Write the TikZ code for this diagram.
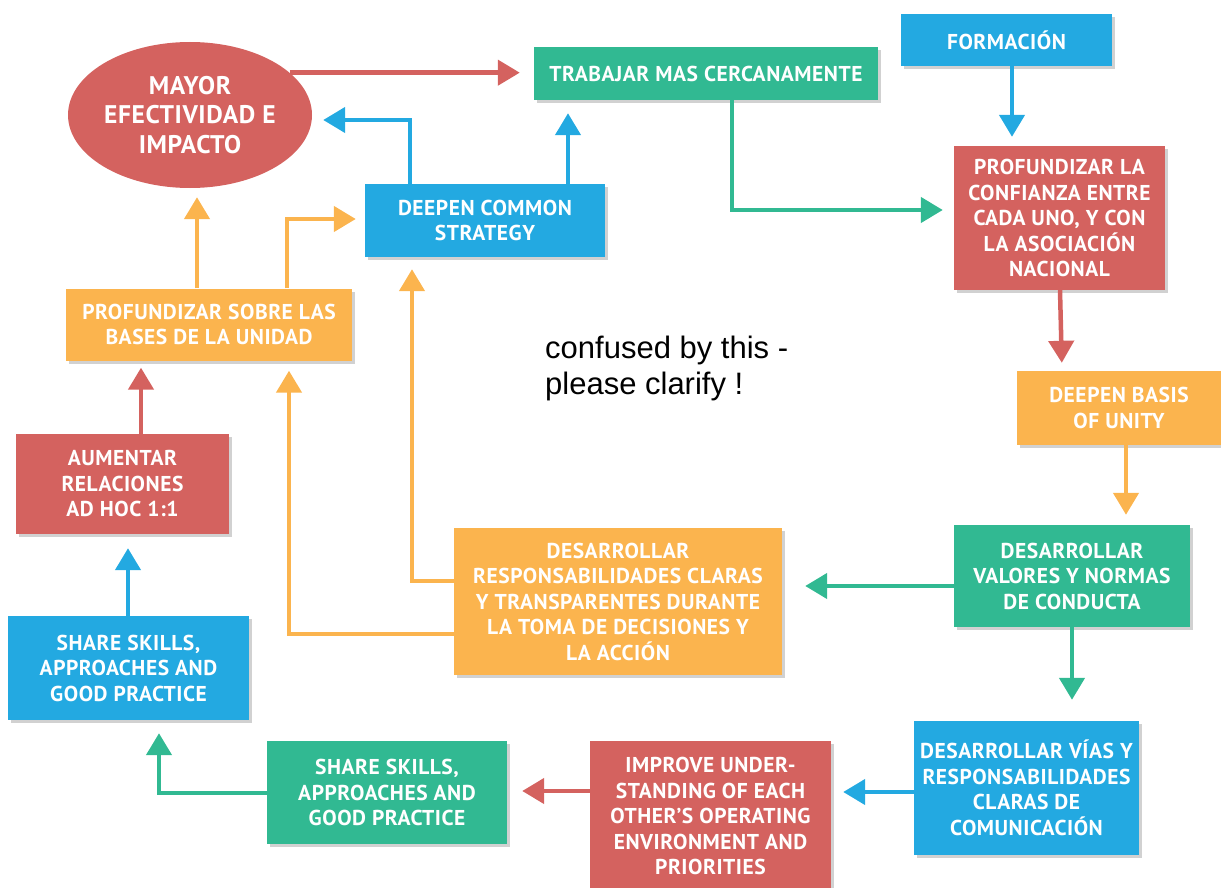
\documentclass[tikz,border=0pt]{standalone}
\usepackage{fontspec}
\setmainfont{PT Sans}[LetterSpace=2.5]
\newfontfamily\notefont{Liberation Sans}
\usetikzlibrary{arrows.meta,shapes.geometric,shadows}
\definecolor{cred}{HTML}{D4625F}
\definecolor{cgreen}{HTML}{31B992}
\definecolor{cblue}{HTML}{23A9E1}
\definecolor{corange}{HTML}{FBB44E}
\begin{document}
\begin{tikzpicture}[x=1pt,y=-1pt,
  box/.style={rectangle, inner sep=0pt, align=center, text=white,
    font=\fontsize{21.5}{25.5}\selectfont\bfseries,
    drop shadow={shadow xshift=3pt,shadow yshift=-3pt,opacity=0.18,fill=black}},
  conn/.style={line width=4.5pt, -{Triangle[width=25pt,length=22pt]}},
]
\useasboundingbox (0,0) rectangle (1221,888);

\node[ellipse, fill=cred, inner sep=0pt, align=center, text=white,
  font=\fontsize{25.5}{29.5}\selectfont\bfseries,
  minimum width=244pt, minimum height=146pt] (ell) at (190,115) {MAYOR\\EFECTIVIDAD E\\IMPACTO};
\node[box, fill=cgreen, minimum width=344pt, minimum height=53pt] (trab) at (706,73.5) {TRABAJAR MAS CERCANAMENTE};
\node[box, fill=cblue, minimum width=211pt, minimum height=52pt] (form) at (1006.5,40) {FORMACIÓN};
\node[box, fill=cred, minimum width=211pt, minimum height=144pt] (prof) at (1059.5,218) {PROFUNDIZAR LA\\CONFIANZA ENTRE\\CADA UNO, Y CON\\LA ASOCIACIÓN\\NACIONAL};
\node[box, fill=corange, minimum width=204pt, minimum height=74pt] (basis) at (1119,408) {DEEPEN BASIS\\OF UNITY};
\node[box, fill=cgreen, minimum width=236pt, minimum height=102pt] (valores) at (1072,576) {DESARROLLAR\\VALORES Y NORMAS\\DE CONDUCTA};
\node[box, fill=cblue, minimum width=225pt, minimum height=134pt] (vias) at (1026.5,788) {DESARROLLAR VÍAS Y\\RESPONSABILIDADES\\CLARAS DE\\COMUNICACIÓN};
\node[box, fill=cred, minimum width=241pt, minimum height=150pt] (improve) at (710.5,816) {IMPROVE UNDER-\\STANDING OF EACH\\OTHER’S OPERATING\\ENVIRONMENT AND\\PRIORITIES};
\node[box, fill=cgreen, minimum width=240pt, minimum height=103pt] (sharegreen) at (387,792.5) {SHARE SKILLS,\\APPROACHES AND\\GOOD PRACTICE};
\node[box, fill=cblue, minimum width=241pt, minimum height=104pt] (shareblue) at (128.5,668) {SHARE SKILLS,\\APPROACHES AND\\GOOD PRACTICE};
\node[box, fill=cred, minimum width=213pt, minimum height=100pt] (aum) at (122.5,484) {AUMENTAR\\RELACIONES\\AD HOC 1:1};
\node[box, fill=corange, minimum width=286pt, minimum height=72pt] (sobre) at (209,324.5) {PROFUNDIZAR SOBRE LAS\\BASES DE LA UNIDAD};
\node[box, fill=cblue, minimum width=240pt, minimum height=73pt] (strategy) at (485,220.5) {DEEPEN COMMON\\STRATEGY};
\node[box, fill=corange, minimum width=328pt, minimum height=147pt] (resp) at (618,601.5) {DESARROLLAR\\RESPONSABILIDADES CLARAS\\Y TRANSPARENTES DURANTE\\LA TOMA DE DECISIONES Y\\LA ACCIÓN};

\node[font=\notefont\fontsize{31}{36}\selectfont, align=left, anchor=north west, inner sep=0pt] (note) at (545,336) {confused by this -\\please clarify !};

\draw[conn,cred,shorten >=14pt] (ell.23) -- (trab.west |- ell.23);
\draw[conn,cblue,shorten >=11pt] (strategy.north -| 410,0) |- (ell.east |- 0,120);
\draw[conn,cblue,shorten >=13pt] (strategy.north -| 568,0) -- (trab.south -| 568,0);
\draw[conn,cgreen,shorten >=11pt] (trab.south -| 732,0) |- (prof.west |- 0,210);
\draw[conn,cblue,shorten >=9pt] (form.south -| 1012,0) -- (prof.north -| 1012,0);
\draw[conn,cred,shorten >=8pt] (prof.south -| 1060,0) -- (basis.north -| 1062,0);
\draw[conn,corange,shorten >=10pt] (basis.south -| 1126,0) -- (valores.north -| 1126,0);
\draw[conn,cgreen,shorten >=23pt] (valores.west |- 0,586) -- (resp.east |- 0,586);
\draw[conn,cgreen,shorten >=21pt] (valores.south -| 1072,0) -- (vias.north -| 1072,0);
\draw[conn,cblue,shorten >=12pt] (vias.west |- 0,792) -- (improve.east |- 0,792);
\draw[conn,cred,shorten >=15pt] (improve.west |- 0,791) -- (sharegreen.east |- 0,791);
\draw[conn,cgreen,shorten >=13pt] (sharegreen.west |- 0,793) -| (shareblue.south -| 159,0);
\draw[conn,cblue,shorten >=14pt] (shareblue.north -| 128,0) -- (aum.south -| 128,0);
\draw[conn,cred,shorten >=7pt] (aum.north -| 141,0) -- (sobre.south -| 141,0);
\draw[conn,corange,shorten >=9pt] (sobre.north -| 197,0) -- (ell.south -| 197,0);
\draw[conn,corange,shorten >=9pt] (sobre.north -| 287,0) |- (strategy.west |- 0,219);
\draw[conn,corange,shorten >=12pt] (resp.west |- 0,581) -| (strategy.south -| 412,0);
\draw[conn,corange,shorten >=10pt] (resp.west |- 0,634) -| (sobre.south -| 289,0);
\end{tikzpicture}
\end{document}
